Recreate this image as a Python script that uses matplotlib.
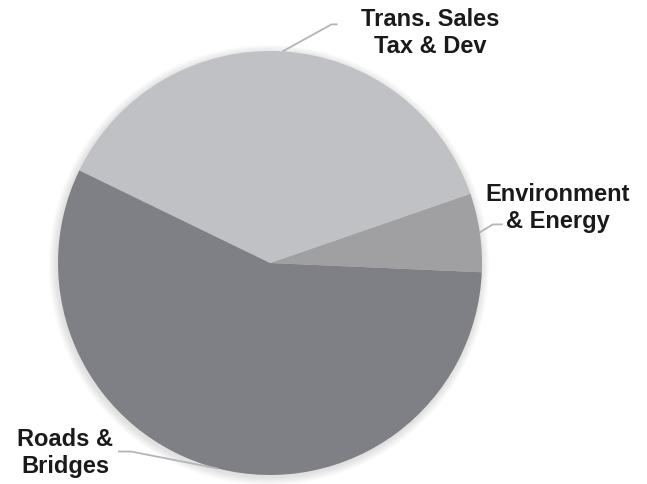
import numpy as np
import matplotlib.pyplot as plt
from matplotlib.patches import Circle

plt.rcParams["font.family"] = ["Liberation Sans", "DejaVu Sans"]

# Budget shares (percent)
labels = ["Environment\n& Energy", "Trans. Sales\nTax & Dev", "Roads &\nBridges"]
values = [6.0, 37.5, 56.5]
colors = ["#a0a0a3", "#c0c1c5", "#7f8085"]

W, H = 647, 485
fig = plt.figure(figsize=(W / 100, H / 100), dpi=100)
ax = fig.add_axes([0, 0, 1, 1])

cx, cy, r = 270, 221, 212

# soft shadow around the pie
for i in range(10):
    ax.add_patch(Circle((cx - 1, cy - 2), r + 1 + i * 0.8, color="black",
                        alpha=0.012, lw=0, zorder=0))

wedges, _ = ax.pie(values, colors=colors, startangle=-2.5, counterclock=True,
                   center=(cx, cy), radius=r, frame=True,
                   wedgeprops={"linewidth": 0, "zorder": 2})
ax.set_xlim(0, W)
ax.set_ylim(0, H)
ax.set_aspect("equal")
ax.axis("off")

# leader lines: elbow and end offsets from the wedge edge, label centre
leaders = [
    ((13, 8), (23, 8), (558, 277)),
    ((49, 27), (55, 27), (430, 452)),
    ((-87, 17), (-100, 17), (65, 32)),
]

line_col = "#b4b5b8"
for w, lab, (elb, end, tpos) in zip(wedges, labels, leaders):
    mid = np.deg2rad((w.theta1 + w.theta2) / 2)
    ax_, ay_ = cx + r * np.cos(mid), cy + r * np.sin(mid)
    xs = [ax_, ax_ + elb[0], ax_ + end[0]]
    ys = [ay_, ay_ + elb[1], ay_ + end[1]]
    ax.plot(xs, ys, color=line_col, lw=1.3, zorder=3, solid_capstyle="butt")
    ax.text(tpos[0], tpos[1], lab, ha="center", va="center", fontsize=17,
            fontweight="bold", color="#1a1a1a", linespacing=1.22, zorder=4)

fig.savefig("out.png", dpi=100)
